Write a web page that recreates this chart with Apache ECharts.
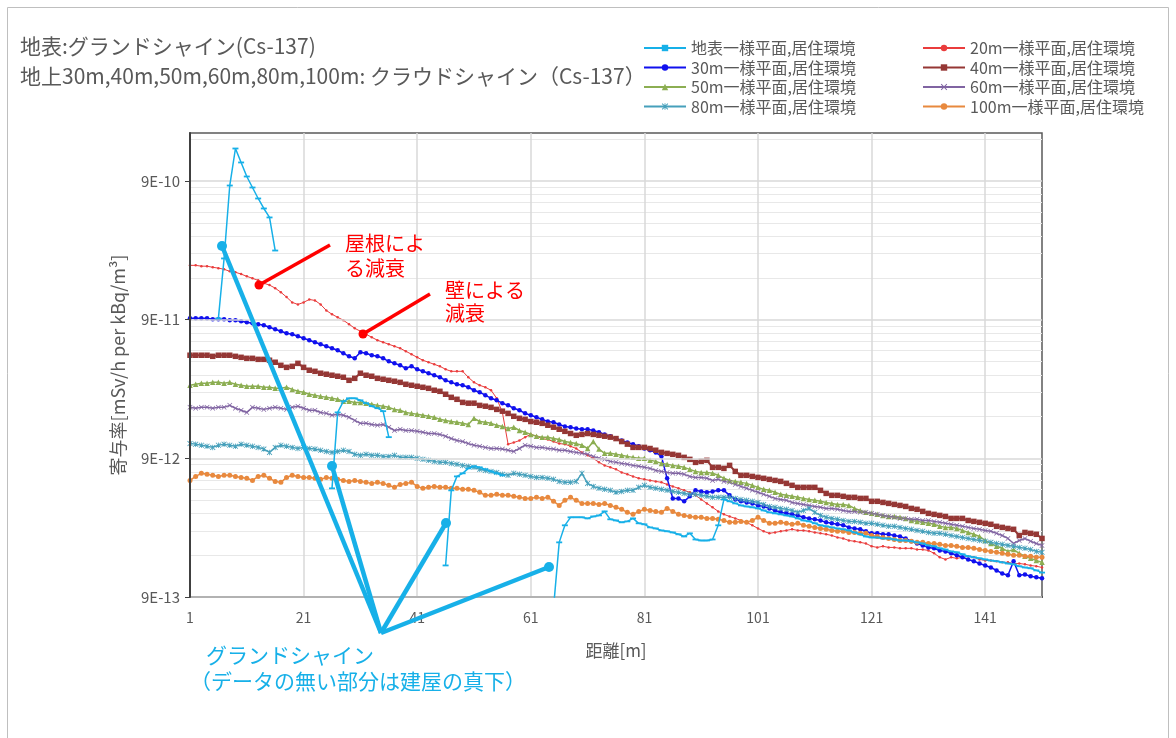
<!DOCTYPE html>
<html lang="ja">
<head>
<meta charset="utf-8">
<title>寄与率と距離</title>
<script src="https://cdn.jsdelivr.net/npm/echarts@6.0.0/dist/echarts.min.js"></script>
<style>
  html, body { margin: 0; padding: 0; background: #ffffff; }
  #chart { width: 1176px; height: 738px; }
</style>
</head>
<body>
<div id="chart"></div>
<script>
// Values are given in units of 1E-12 mSv/h per kBq/m3
const UNIT = 1e-12;

// Distance categories 1 .. 151 m
const DISTANCE_M = Array.from({ length: 151 }, (_, i) => String(i + 1));

// Log axis: labelled decades and range
const Y_MAJOR = [9e-13, 9e-12, 9e-11, 9e-10];
const Y_MIN = 9e-13;
const Y_MAX = 2e-9;

const NAMES = [
  '地表一様平面,居住環境', '20m一様平面,居住環境', '30m一様平面,居住環境', '40m一様平面,居住環境',
  '50m一様平面,居住環境', '60m一様平面,居住環境', '80m一様平面,居住環境', '100m一様平面,居住環境'
];

// Ground shine (gaps = points directly under the building)
const GROUND = [
  null, null, null, null, null, 92, 249, 836, 1546, 1226,
  971, 809, 674, 571, 492, 284, null, null, null, null,
  null, null, null, null, null, 5.47, 19.3, 23.2, 24.4, 24.4,
  23.6, 22.5, 21.4, 20.7, 19.7, 12.8, null, null, null, null,
  null, null, null, null, null, 1.52, 5.29, 6.67, 7.02, 7.62,
  7.88, 7.75, 7.50, 7.25, 7.02, 6.79, null, null, null, null,
  null, null, null, null, 0.75, 2.23, 2.96, 3.38, 3.38, 3.38,
  3.32, 3.43, 3.49, 3.73, 3.27, 3.21, 3.11, 3.16, 3.32, 3.06,
  3.01, 2.86, 2.81, 2.72, 2.68, 2.63, 2.55, 2.46, 2.59, 2.34,
  2.30, 2.30, 2.34, 2.96, 4.55, 4.41, 4.26, 4.12, 4.05, 3.99,
  3.92, 3.79, 3.67, 3.61, 3.55, 3.49, 3.43, 3.32, 3.21, 3.16,
  3.06, 2.96, 2.91, 2.86, 2.81, 2.77, 2.72, 2.63, 2.55, 2.46,
  2.42, 2.42, 2.38, 2.38, 2.34, 2.30, 2.30, 2.27, 2.23, 2.19,
  2.12, 2.09, 2.02, 1.98, 1.92, 1.89, 1.83, 1.77, 1.74, 1.71,
  1.68, 1.65, 1.63, 1.60, 1.57, 1.55, 1.50, 1.47, 1.45, 1.40,
  1.35
];

const H20 = [
  222, 222, 219, 219, 215, 212, 208, 201, 198, 192,
  185, 179, 173, 165, 160, 152, 142, 131, 120, 116,
  120, 126, 124, 116, 105, 98.5, 93.7, 89.2, 83.5, 78.1,
  74.3, 70.7, 67.2, 64.0, 61.9, 59.9, 57.9, 56.0, 53.3, 50.7,
  48.2, 45.9, 44.4, 42.9, 41.5, 39.5, 38.2, 38.2, 38.2, 34.6,
  31.8, 30.3, 29.3, 27.9, 24.4, 19.3, 11.4, 11.7, 12.1, 12.8,
  13.4, 13.0, 12.5, 12.3, 11.9, 11.5, 11.4, 11.0, 10.6, 9.94,
  9.46, 9.00, 8.42, 8.01, 7.75, 7.50, 7.13, 6.90, 6.67, 6.46,
  6.35, 6.24, 6.14, 6.04, 5.84, 5.65, 5.47, 5.29, 5.12, 4.87,
  4.55, 4.26, 3.99, 3.73, 3.55, 3.43, 3.32, 3.21, 3.11, 2.96,
  2.81, 2.68, 2.59, 2.63, 2.68, 2.72, 2.77, 2.72, 2.72, 2.68,
  2.63, 2.59, 2.55, 2.50, 2.42, 2.38, 2.30, 2.27, 2.23, 2.19,
  2.09, 2.05, 2.09, 2.05, 2.05, 2.02, 2.02, 2.02, 1.98, 1.98,
  1.95, 1.86, 1.74, 1.68, 1.74, 1.71, 1.74, 1.77, 1.74, 1.68,
  1.65, 1.65, 1.63, 1.60, 1.60, 1.57, 1.57, 1.55, 1.52, 1.50,
  1.47
];

const H30 = [
  92.2, 92.2, 92.2, 92.2, 90.7, 90.7, 90.7, 89.2, 89.2, 87.7,
  86.3, 84.9, 83.5, 82.1, 79.4, 76.8, 74.3, 71.9, 70.7, 68.4,
  66.1, 64.0, 61.9, 59.9, 57.9, 56.0, 54.2, 51.5, 49.0, 47.4,
  52.4, 51.5, 49.9, 49.0, 47.4, 45.1, 43.6, 42.2, 40.2, 41.5,
  39.5, 38.2, 37.0, 35.8, 34.6, 32.9, 31.8, 30.8, 30.3, 29.3,
  27.9, 27.0, 25.7, 24.4, 23.6, 22.5, 21.7, 20.7, 20.0, 19.0,
  18.4, 17.8, 17.2, 16.6, 16.4, 15.8, 15.3, 15.1, 14.8, 14.6,
  14.6, 14.3, 13.9, 13.4, 13.0, 12.5, 12.1, 11.7, 11.4, 11.0,
  10.6, 10.3, 9.94, 9.30, 6.46, 4.63, 4.63, 4.41, 4.79, 5.29,
  5.20, 5.12, 5.20, 5.29, 5.29, 4.87, 4.55, 4.41, 4.33, 4.26,
  4.12, 4.05, 3.92, 3.79, 3.67, 3.61, 3.55, 3.49, 3.38, 3.32,
  3.27, 3.21, 3.11, 3.06, 3.01, 2.96, 2.86, 2.81, 2.77, 2.68,
  2.59, 2.59, 2.55, 2.55, 2.50, 2.46, 2.38, 2.27, 2.19, 2.12,
  2.05, 2.02, 1.95, 1.92, 1.86, 1.80, 1.74, 1.68, 1.63, 1.57,
  1.52, 1.47, 1.40, 1.33, 1.29, 1.63, 1.29, 1.31, 1.27, 1.25,
  1.23
];

const H40 = [
  49.9, 49.9, 49.9, 49.9, 49.0, 49.9, 49.9, 49.9, 49.0, 48.2,
  47.4, 47.4, 46.6, 46.6, 45.9, 44.4, 42.2, 40.8, 41.5, 43.6,
  40.8, 38.9, 38.2, 37.0, 36.4, 35.8, 35.2, 34.6, 32.9, 34.0,
  37.0, 35.8, 35.2, 34.0, 33.5, 32.9, 32.4, 31.8, 30.8, 30.3,
  29.8, 29.3, 28.8, 27.9, 27.4, 26.1, 24.8, 24.0, 22.8, 22.5,
  22.5, 21.7, 21.4, 21.0, 20.3, 19.7, 19.0, 18.1, 17.5, 17.2,
  16.6, 16.4, 16.1, 15.6, 15.1, 14.6, 14.1, 13.6, 13.2, 13.4,
  13.6, 13.4, 13.2, 13.0, 12.8, 12.5, 11.9, 11.4, 10.8, 10.8,
  10.8, 10.6, 10.3, 9.94, 9.78, 9.62, 9.46, 9.15, 8.85, 8.42,
  8.56, 8.71, 7.75, 7.75, 7.62, 8.01, 7.25, 6.79, 6.79, 6.67,
  6.56, 6.46, 6.35, 6.24, 6.14, 5.94, 5.75, 5.56, 5.56, 5.56,
  5.56, 5.29, 5.03, 4.87, 4.87, 4.79, 4.71, 4.71, 4.63, 4.63,
  4.41, 4.41, 4.33, 4.26, 4.19, 4.12, 4.05, 3.92, 3.86, 3.73,
  3.61, 3.55, 3.49, 3.43, 3.32, 3.32, 3.32, 3.21, 3.16, 3.11,
  3.06, 3.01, 2.91, 2.86, 2.81, 2.77, 2.50, 2.63, 2.59, 2.55,
  2.38
];

const H50 = [
  30.3, 30.8, 31.3, 31.3, 31.8, 31.8, 31.3, 31.8, 30.8, 30.3,
  29.8, 29.8, 29.8, 29.3, 29.3, 28.8, 28.8, 29.3, 28.3, 27.4,
  27.0, 26.1, 25.7, 25.2, 24.8, 24.4, 24.0, 23.2, 23.2, 22.8,
  22.8, 22.5, 22.1, 21.7, 21.4, 21.0, 20.3, 20.0, 19.3, 19.0,
  18.7, 18.4, 18.1, 17.8, 17.2, 16.9, 16.6, 16.4, 16.1, 15.8,
  17.5, 16.6, 16.4, 16.1, 15.6, 15.3, 14.8, 15.1, 14.3, 13.9,
  13.4, 13.0, 12.8, 12.8, 12.5, 12.3, 11.9, 11.7, 11.5, 11.2,
  10.6, 11.9, 10.5, 9.78, 9.78, 9.62, 9.46, 9.30, 9.15, 9.00,
  9.00, 8.71, 8.56, 8.28, 8.15, 8.01, 7.88, 7.75, 7.50, 7.25,
  7.13, 7.13, 7.02, 6.79, 6.46, 6.24, 6.14, 6.04, 5.94, 5.75,
  5.56, 5.38, 5.29, 5.12, 4.95, 4.87, 4.79, 4.71, 4.63, 4.55,
  4.48, 4.41, 4.33, 4.26, 4.19, 4.19, 4.12, 3.92, 3.79, 3.67,
  3.61, 3.55, 3.49, 3.43, 3.43, 3.38, 3.32, 3.21, 3.16, 3.11,
  3.06, 3.01, 2.91, 2.86, 2.86, 2.81, 2.72, 2.63, 2.55, 2.46,
  2.30, 2.19, 2.09, 2.02, 1.92, 1.98, 1.86, 1.77, 1.71, 1.65,
  1.60
];

const H60 = [
  21.0, 20.7, 21.0, 21.0, 20.7, 21.0, 21.0, 21.7, 20.7, 20.0,
  19.3, 21.0, 20.7, 20.3, 20.7, 21.0, 20.7, 20.3, 21.0, 21.4,
  20.7, 20.0, 20.0, 19.3, 19.0, 18.4, 18.7, 18.4, 17.8, 16.9,
  16.1, 16.1, 15.8, 15.6, 15.8, 15.1, 14.3, 14.6, 14.3, 14.3,
  14.1, 13.9, 13.6, 13.6, 13.4, 13.0, 12.5, 12.1, 11.9, 11.5,
  11.2, 11.0, 10.8, 10.6, 10.6, 10.5, 10.3, 10.1, 10.6, 11.2,
  11.0, 10.8, 10.8, 10.6, 10.5, 10.3, 10.3, 10.1, 9.94, 9.78,
  9.62, 9.30, 9.00, 8.85, 8.56, 8.42, 8.28, 8.15, 8.01, 7.88,
  7.75, 7.62, 7.37, 7.25, 7.13, 7.02, 7.02, 6.90, 6.67, 6.56,
  6.56, 6.46, 6.24, 6.35, 6.14, 6.04, 5.84, 5.65, 5.47, 5.29,
  5.12, 4.95, 4.79, 4.63, 4.55, 4.48, 4.33, 4.26, 4.19, 4.12,
  4.05, 3.99, 3.92, 3.92, 3.86, 3.79, 3.73, 3.73, 3.67, 3.67,
  3.61, 3.55, 3.49, 3.43, 3.38, 3.32, 3.32, 3.27, 3.27, 3.21,
  3.21, 3.16, 3.11, 3.06, 3.01, 2.96, 2.91, 2.86, 2.81, 2.77,
  2.72, 2.68, 2.59, 2.50, 2.38, 2.19, 2.30, 2.38, 2.27, 2.19,
  2.12
];

const H80 = [
  11.5, 11.4, 11.2, 11.0, 10.8, 11.2, 11.4, 11.2, 11.0, 11.4,
  11.2, 11.0, 10.8, 10.5, 9.94, 10.8, 11.2, 11.0, 10.8, 10.6,
  10.8, 10.6, 10.5, 10.3, 10.1, 9.94, 10.1, 10.3, 10.1, 9.62,
  9.46, 9.62, 9.46, 9.46, 9.30, 9.30, 9.46, 9.15, 9.15, 9.15,
  9.00, 8.85, 8.71, 8.56, 8.42, 8.42, 8.28, 8.15, 8.01, 7.88,
  7.75, 7.50, 7.37, 7.25, 7.13, 6.90, 6.79, 7.02, 6.90, 6.79,
  6.67, 6.56, 6.56, 6.46, 6.35, 6.14, 6.04, 6.04, 6.14, 7.02,
  5.94, 5.65, 5.47, 5.38, 5.29, 5.12, 5.20, 5.29, 5.29, 5.56,
  5.75, 5.56, 5.47, 5.38, 5.29, 5.20, 5.12, 5.03, 4.95, 4.95,
  4.87, 4.79, 4.71, 4.71, 4.71, 4.71, 4.63, 4.55, 4.48, 4.41,
  4.33, 4.19, 4.05, 3.99, 3.92, 3.86, 3.79, 3.67, 3.79, 3.92,
  3.67, 3.49, 3.38, 3.32, 3.27, 3.21, 3.16, 3.16, 3.11, 3.06,
  3.06, 3.01, 2.96, 2.91, 2.91, 2.86, 2.81, 2.77, 2.72, 2.68,
  2.63, 2.59, 2.59, 2.55, 2.50, 2.46, 2.42, 2.38, 2.34, 2.30,
  2.27, 2.23, 2.19, 2.16, 2.12, 2.09, 2.05, 2.02, 1.98, 1.92,
  1.89
];

const H100 = [
  6.24, 6.67, 7.02, 6.90, 6.79, 6.67, 6.79, 6.79, 6.67, 6.56,
  6.46, 6.24, 6.67, 6.79, 6.46, 6.14, 6.04, 6.56, 6.79, 6.67,
  6.56, 6.56, 6.46, 6.35, 6.56, 6.46, 6.35, 6.24, 6.14, 6.24,
  6.14, 6.04, 5.94, 6.04, 5.94, 5.75, 5.56, 5.84, 5.94, 6.04,
  5.65, 5.47, 5.56, 5.65, 5.56, 5.56, 5.47, 5.47, 5.38, 5.38,
  5.29, 5.12, 4.87, 4.87, 4.95, 4.87, 4.87, 4.79, 4.71, 4.63,
  4.63, 4.71, 4.63, 4.71, 4.41, 4.12, 4.48, 4.71, 4.48, 4.26,
  4.26, 4.26, 4.19, 4.26, 4.12, 3.99, 3.86, 3.67, 3.55, 3.73,
  3.86, 3.79, 3.73, 3.67, 3.92, 3.73, 3.55, 3.49, 3.43, 3.38,
  3.38, 3.32, 3.32, 3.27, 3.21, 3.11, 3.11, 3.16, 3.11, 3.21,
  3.38, 3.21, 3.06, 3.06, 3.11, 3.06, 3.01, 3.06, 2.96, 2.91,
  2.86, 2.81, 2.77, 2.72, 2.68, 2.68, 2.63, 2.63, 2.59, 2.59,
  2.50, 2.46, 2.42, 2.38, 2.34, 2.30, 2.30, 2.27, 2.23, 2.23,
  2.19, 2.19, 2.16, 2.12, 2.12, 2.09, 2.05, 2.05, 2.02, 1.98,
  1.95, 1.92, 1.89, 1.86, 1.83, 1.80, 1.80, 1.77, 1.77, 1.74,
  1.74
];

// Light minor grid lines at 2x..9x of each labelled decade
const Y_MINOR = [];
Y_MAJOR.forEach(m => {
  for (let k = 2; k <= 9; k++) {
    const v = m * k;
    if (v <= Y_MAX) Y_MINOR.push(v);
  }
});

const FONT = "'Noto Sans CJK JP', 'Noto Sans', sans-serif";
const GRAY = '#595959';
const SKY = '#17b0e8';
const RED = '#ff0000';

const SYM_X = 'path://M0,1L1,0L5,4L9,0L10,1L6,5L10,9L9,10L5,6L1,10L0,9L4,5Z';
const SYM_STAR = 'path://M0,1L1,0L5,4L9,0L10,1L6,5L10,9L9,10L5,6L1,10L0,9L4,5Z M4.3,0H5.7V10H4.3Z';

function scaled(arr) {
  return arr.map(v => (v == null ? null : v * UNIT));
}

function lineSeries(name, values, color, symbol, size, width, z) {
  return {
    name: name,
    type: 'line',
    data: scaled(values),
    yAxisIndex: 0,
    symbol: symbol,
    symbolSize: size,
    showSymbol: true,
    showAllSymbol: true,
    connectNulls: false,
    clip: true,
    z: z,
    lineStyle: { color: color, width: width },
    itemStyle: { color: color },
    emphasis: { disabled: true }
  };
}

function fmtDecade(v) {
  const e = Math.round(Math.log10(v / 9));
  return '9E' + e;
}

const chart = echarts.init(document.getElementById('chart'), null, { renderer: 'canvas' });

const legendCommon = {
  orient: 'vertical',
  top: 35,
  itemWidth: 42,
  itemHeight: 8,
  itemGap: 3.5,
  selectedMode: false,
  textStyle: { fontSize: 16, color: GRAY, fontFamily: FONT, lineHeight: 16 }
};

const option = {
  animation: false,
  backgroundColor: '#ffffff',
  textStyle: { fontFamily: FONT },
  title: {
    text: '地表:グランドシャイン(Cs-137)\n地上30m,40m,50m,60m,80m,100m: クラウドシャイン（Cs-137）',
    left: 15,
    top: 26,
    textStyle: { fontSize: 21, fontWeight: 'normal', color: GRAY, lineHeight: 30, fontFamily: FONT }
  },
  legend: [
    Object.assign({}, legendCommon, { left: 638, data: [NAMES[0], NAMES[2], NAMES[4], NAMES[6]] }),
    Object.assign({}, legendCommon, { left: 917, data: [NAMES[1], NAMES[3], NAMES[5], NAMES[7]] })
  ],
  grid: {
    left: 190, right: 134, top: 133, bottom: 141,
    show: true, borderColor: '#595959', borderWidth: 1.5, backgroundColor: 'transparent'
  },
  xAxis: {
    type: 'category',
    data: DISTANCE_M,
    boundaryGap: false,
    name: '距離[m]',
    nameLocation: 'middle',
    nameGap: 45,
    nameTextStyle: { fontSize: 17, color: GRAY },
    axisLine: { lineStyle: { color: '#404040', width: 2 } },
    axisTick: { show: false },
    axisLabel: { interval: 19, color: GRAY, fontSize: 14, margin: 14 },
    splitLine: { show: true, interval: 19, lineStyle: { color: '#d9d9d9', width: 1.5 } }
  },
  yAxis: [
    {
      type: 'log',
      logBase: 10,
      min: Y_MIN,
      max: Y_MAX,
      name: '寄与率[mSv/h per kBq/m³]',
      nameLocation: 'middle',
      nameGap: 63,
      nameTextStyle: { fontSize: 18, color: GRAY },
      axisLine: { show: true, lineStyle: { color: '#404040', width: 2 } },
      axisTick: { show: true, length: 5, customValues: Y_MAJOR, lineStyle: { color: '#404040' } },
      axisLabel: { customValues: Y_MAJOR, formatter: fmtDecade, color: GRAY, fontSize: 15, margin: 10 },
      splitLine: { show: true, lineStyle: { color: '#d9d9d9', width: 1.5 } },
      z: 3
    },
    {
      type: 'log',
      logBase: 10,
      min: Y_MIN,
      max: Y_MAX,
      position: 'left',
      axisLine: { show: false },
      axisLabel: { show: false },
      axisTick: { show: false, customValues: Y_MINOR },
      splitLine: { show: true, lineStyle: { color: '#e8e8e8', width: 1 } }
    }
  ],
  series: [
    lineSeries(NAMES[1], H20, '#ea3c3c', 'circle', 2.5, 1, 2),
    lineSeries(NAMES[2], H30, '#1010ee', 'circle', 4.5, 1.5, 2),
    lineSeries(NAMES[3], H40, '#953735', 'rect', 5.5, 2, 2),
    lineSeries(NAMES[4], H50, '#8cae52', 'triangle', 5.5, 1.5, 2),
    lineSeries(NAMES[5], H60, '#8064a2', SYM_X, 5, 1.5, 2),
    lineSeries(NAMES[6], H80, '#46a0bb', SYM_STAR, 5.5, 1.5, 2),
    lineSeries(NAMES[7], H100, '#e8893e', 'circle', 5, 1.5, 2),
    lineSeries(NAMES[0], GROUND, SKY, 'rect', [6, 1.8], 1.5, 3)
  ],
  graphic: [
    // outer frame
    { type: 'rect', z: 0, silent: true,
      shape: { x: 7.5, y: 7.5, width: 1161, height: 745 },
      style: { fill: 'none', stroke: '#bfbfbf', lineWidth: 1 } },

    // roof attenuation callout
    { type: 'line', z: 100, silent: true,
      shape: { x1: 330, y1: 245, x2: 259, y2: 285 },
      style: { stroke: RED, lineWidth: 3.5 } },
    { type: 'circle', z: 100, silent: true, shape: { cx: 259, cy: 285, r: 4.5 }, style: { fill: RED } },
    { type: 'text', z: 100, silent: true,
      style: { text: '屋根によ\nる減衰', x: 345, y: 255.5, verticalAlign: 'middle',
               fill: RED, fontSize: 20, lineHeight: 25, fontFamily: FONT } },

    // wall attenuation callout
    { type: 'line', z: 100, silent: true,
      shape: { x1: 430, y1: 294, x2: 363, y2: 334 },
      style: { stroke: RED, lineWidth: 3.5 } },
    { type: 'circle', z: 100, silent: true, shape: { cx: 363, cy: 334, r: 4.5 }, style: { fill: RED } },
    { type: 'text', z: 100, silent: true,
      style: { text: '壁による\n減衰', x: 445, y: 301.5, verticalAlign: 'middle',
               fill: RED, fontSize: 20, lineHeight: 23, fontFamily: FONT } },

    // ground shine callout
    { type: 'line', z: 100, silent: true, shape: { x1: 381, y1: 633, x2: 222, y2: 246 },
      style: { stroke: SKY, lineWidth: 4.5 } },
    { type: 'line', z: 100, silent: true, shape: { x1: 381, y1: 633, x2: 332, y2: 466 },
      style: { stroke: SKY, lineWidth: 4.5 } },
    { type: 'line', z: 100, silent: true, shape: { x1: 381, y1: 633, x2: 446, y2: 523 },
      style: { stroke: SKY, lineWidth: 4.5 } },
    { type: 'line', z: 100, silent: true, shape: { x1: 381, y1: 633, x2: 549, y2: 567 },
      style: { stroke: SKY, lineWidth: 4.5 } },
    { type: 'circle', z: 100, silent: true, shape: { cx: 222, cy: 246, r: 5 }, style: { fill: SKY } },
    { type: 'circle', z: 100, silent: true, shape: { cx: 332, cy: 466, r: 5 }, style: { fill: SKY } },
    { type: 'circle', z: 100, silent: true, shape: { cx: 446, cy: 523, r: 5 }, style: { fill: SKY } },
    { type: 'circle', z: 100, silent: true, shape: { cx: 549, cy: 567, r: 5 }, style: { fill: SKY } },
    { type: 'text', z: 100, silent: true,
      style: { text: 'グランドシャイン', x: 206, y: 655, verticalAlign: 'middle',
               fill: SKY, fontSize: 21, fontFamily: FONT } },
    { type: 'text', z: 100, silent: true,
      style: { text: '（データの無い部分は建屋の真下）', x: 190, y: 681, verticalAlign: 'middle',
               fill: SKY, fontSize: 21, fontFamily: FONT } }
  ]
};

chart.setOption(option);
</script>
</body>
</html>
